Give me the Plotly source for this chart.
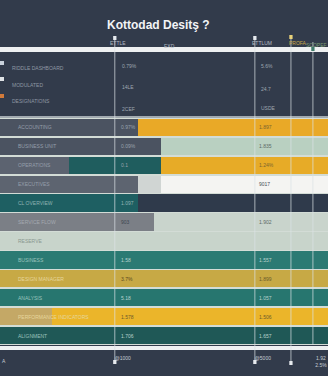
import plotly.graph_objects as go

# ---- data ----
rows = ["ACCOUNTING", "BUSINESS UNIT", "OPERATIONS", "EXECUTIVES", "CL OVERVIEW",
        "SERVICE FLOW", "RESERVE", "BUSINESS", "DESIGN MANAGER", "ANALYSIS",
        "PERFORMANCE INDICATORS", "ALIGNMENT"]
base_share = [42, 49, 21, 42, 42, 47, 100, 100, 100, 100, 16, 100]
mid_share = [0, 0, 28, 7, 0, 0, 0, 0, 0, 0, 0, 0]
rest_share = [58, 51, 51, 51, 58, 53, 0, 0, 0, 0, 84, 0]
col1_values = ["0.97%", "0.09%", "0.1", "", "1.097", "903", "", "1.58", "3.7%", "5.18", "1.578", "1.706"]
col2_values = ["1.897", "1.835", "1.24%", "9017", "", "1.902", "", "1.557", "1.899", "1.057", "1.506", "1.657"]
header_labels = ["RIDDLE DASHBOARD", "MODULATED", "DESIGNATIONS"]
header_col1 = ["0.79%", "14LE", "2CEF"]
header_col2 = ["5.6%", "24.7", "USDE"]
tick_vals = [35.0, 77.7, 88.7, 95.4]
tick_text = ["@1000", "@5000", "", "1.92<br>2.5%"]

# ---- styles ----
NAVY = "#323b4b"
FONT = "Liberation Sans"
base_colors = ["#4b5361", "#4b5361", "#5c6370", "#5d6470", "#1e5f62", "#7b7f86",
               "#c8d4cb", "#2b7a73", "#c7a945", "#27766f", "#c4a866", "#1f5856"]
mid_colors = ["#4b5361", "#4b5361", "#1f5d5e", "#d0d5d3", "#1e5f62", "#7b7f86",
              "#c8d4cb", "#2b7a73", "#c7a945", "#27766f", "#c4a866", "#1f5856"]
rest_colors = ["#e9a927", "#b9d0c1", "#e7ab27", "#f4f4f2", "#2f3a4b", "#c9d4cc",
               "#c8d4cb", "#2b7a73", "#c7a945", "#27766f", "#ebb52a", "#1f5856"]
label_colors = ["#959eaa", "#959eaa", "#959eaa", "#959eaa", "#8fb3b3", "#a4a9b0",
                "#8a9890", "#9cc4bc", "#e6d69c", "#9cc4bc", "#e6d69c", "#9cc2bc"]
c1_colors = ["#9aa2ad", "#9aa2ad", "#9aa2ad", "#9aa2ad", "#93b4b4", "#3e4650",
             "#5a6370", "#b9d2cd", "#5a4a20", "#b9d2cd", "#6b5a2a", "#b9d2cd"]
c2_colors = ["#7b6430", "#5d6a65", "#7b6430", "#4a4f55", "#aeb6c0", "#5d6a65",
             "#5a6370", "#b9d2cd", "#6b5a2a", "#b9d2cd", "#6b5a2a", "#b9d2cd"]

H = 376
def py(px):
    return 1 - px / H

fig = go.Figure()
for name, vals, cols in [("Base", base_share, base_colors),
                         ("Mid", mid_share, mid_colors),
                         ("Rest", rest_share, rest_colors)]:
    fig.add_trace(go.Bar(y=rows, x=vals, orientation="h", name=name,
                         marker=dict(color=cols, line=dict(width=0)),
                         hoverinfo="skip", showlegend=False))

ann = []
# title
ann.append(dict(text="<b>Kottodad Desitş ?</b>", x=0.484, y=py(16), xref="paper", yref="paper",
                showarrow=False, font=dict(family="Liberation Sans", size=12, color="#f2f4f6")))
# column headers
for txt, xp, yp, col in [("ETTLE", 118, 38, "#b3bac3"), ("EXD", 169, 41, "#b3bac3"),
                         ("ETTLUM", 262, 38, "#b3bac3"), ("PROFA", 298, 38, "#c9a94a"),
                         ("SCOPEF", 316, 40, "#7a9c74")]:
    ann.append(dict(text=txt, x=xp / 328, y=py(yp), xref="paper", yref="paper", showarrow=False,
                    xanchor="center", font=dict(family=FONT, size=5, color=col)))
# header legend rows
for i, (lab, v1, v2) in enumerate(zip(header_labels, header_col1, header_col2)):
    ypx = [63, 80, 96][i]
    ann.append(dict(text=lab, x=10 / 328, y=py(ypx), xref="paper", yref="paper", showarrow=False,
                    xanchor="left", font=dict(family=FONT, size=5, color="#8f98a4")))
    ann.append(dict(text=v1, x=120 / 328, y=py([61, 82, 104][i]), xref="paper", yref="paper",
                    showarrow=False, xanchor="left",
                    font=dict(family=FONT, size=5, color="#9ea6b0")))
    ann.append(dict(text=v2, x=259 / 328, y=py([61, 84, 103][i]), xref="paper", yref="paper",
                    showarrow=False, xanchor="left",
                    font=dict(family=FONT, size=5, color="#9ea6b0")))
# row labels and values
for i, r in enumerate(rows):
    ann.append(dict(text=r, x=5, y=r, xref="x", yref="y", showarrow=False, xanchor="left",
                    font=dict(family=FONT, size=5, color=label_colors[i])))
    if col1_values[i]:
        ann.append(dict(text=col1_values[i], x=36.2, y=r, xref="x", yref="y", showarrow=False,
                        xanchor="left", font=dict(family=FONT, size=5, color=c1_colors[i])))
    if col2_values[i]:
        ann.append(dict(text=col2_values[i], x=78.5, y=r, xref="x", yref="y", showarrow=False,
                        xanchor="left", font=dict(family=FONT, size=5, color=c2_colors[i])))
ann.append(dict(text="A", x=0, y=py(366), xref="paper", yref="paper", showarrow=False,
                xanchor="left", font=dict(family=FONT, size=5, color="#c3cad2")))

shapes = []
# header white band
shapes.append(dict(type="rect", xref="paper", yref="paper", x0=0, x1=1, y0=py(52), y1=py(47),
                   fillcolor="#eef0f1", line=dict(width=0), layer="below"))
# thin line above bars
shapes.append(dict(type="line", xref="paper", yref="paper", x0=0, x1=1, y0=py(117), y1=py(117),
                   line=dict(color="#c9d0d2", width=1.5)))
# white line under bars
shapes.append(dict(type="rect", xref="paper", yref="paper", x0=0, x1=1, y0=py(350), y1=py(346),
                   fillcolor="#eef0f1", line=dict(width=0)))
# legend swatches
for ypx, col in [(63, "#c9d2dc"), (79, "#dfe3e6"), (96, "#d27a3a")]:
    shapes.append(dict(type="rect", xref="paper", yref="paper", x0=0, x1=4 / 328,
                       y0=py(ypx + 2), y1=py(ypx - 2), fillcolor=col, line=dict(width=0)))
# vertical reference lines
for xv, top, bot in [(tick_vals[0], 36, 361), (tick_vals[1], 36, 362),
                     (tick_vals[2], 36, 362), (tick_vals[3], 42, 345)]:
    shapes.append(dict(type="line", xref="x", yref="paper", x0=xv, x1=xv, y0=py(bot), y1=py(top),
                       line=dict(color="rgba(220,226,230,0.7)", width=1)))
# small markers
for xv, ypx, col in [(tick_vals[0], 38, "#e6eaee"), (tick_vals[1], 38, "#e6eaee"),
                     (tick_vals[2], 37, "#e8d27a"), (tick_vals[3], 49, "#3f7c6a"),
                     (tick_vals[0], 362, "#e6eaee"), (tick_vals[1], 362, "#e6eaee"),
                     (tick_vals[2], 363, "#e6eaee")]:
    shapes.append(dict(type="rect", xref="x", yref="paper", x0=xv - 0.5, x1=xv + 0.5,
                       y0=py(ypx + 2), y1=py(ypx - 2), fillcolor=col, line=dict(width=0)))

fig.update_layout(
    width=328, height=376, margin=dict(l=0, r=0, t=0, b=0),
    paper_bgcolor=NAVY, plot_bgcolor="#d3dcd6",
    barmode="stack", bargap=0.08,
    xaxis=dict(range=[0, 100], domain=[0, 1], showgrid=False, zeroline=False,
               tickvals=tick_vals, ticktext=tick_text, ticks="",
               ticklabelstandoff=9, ticklabelshift=8,
               tickfont=dict(family=FONT, size=5, color="#c8ced6"), fixedrange=True),
    yaxis=dict(domain=[py(345), py(118)], autorange="reversed", showticklabels=False,
               showgrid=False, zeroline=False, fixedrange=True),
    annotations=ann, shapes=shapes, showlegend=False,
)
fig.write_html("out.html")
